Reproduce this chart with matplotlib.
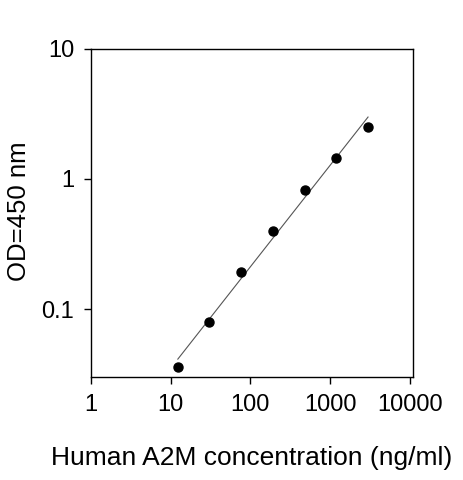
import numpy as np
import matplotlib
matplotlib.use('Agg')
from matplotlib import pyplot as plt

# standard curve, 2.5-fold dilution series
conc = [12.3, 30.7, 76.8, 192, 480, 1200, 3000]
od = [0.036, 0.079, 0.194, 0.396, 0.82, 1.46, 2.51]
xticks = [1, 10, 100, 1000, 10000]
xtick_labels = ['1', '10', '100', '1000', '10000']
yticks = [0.1, 1, 10]
ytick_labels = ['0.1', '1', '10']

plt.rcParams['font.family'] = ['Liberation Sans', 'DejaVu Sans']

fig = plt.figure(figsize=(4.63, 4.8), dpi=100)
ax = fig.add_axes([0.1965, 0.2146, 0.6955, 0.6834])

# linear fit in log-log space
k, b = np.polyfit(np.log10(conc), np.log10(od), 1)
xf = np.array([conc[0], conc[-1]])
ax.plot(xf, 10 ** (k * np.log10(xf) + b), color='#555555', lw=0.8)
ax.plot(conc, od, 'o', color='black', ms=6.5)

ax.set_xscale('log')
ax.set_yscale('log')
ax.set_xlim(1, 11000)
ax.set_ylim(0.03, 10)
ax.set_xticks(xticks)
ax.set_xticklabels(xtick_labels)
ax.set_yticks(yticks)
ax.set_yticklabels(ytick_labels)
ax.minorticks_off()
ax.tick_params(direction='out', length=5, width=1, labelsize=17, pad=7)
for s in ax.spines.values():
    s.set_linewidth(1)

ax.set_xlabel('Human A2M concentration (ng/ml)', fontsize=19, labelpad=22)
ax.set_ylabel('OD=450 nm', fontsize=18.5, va='center')
ax.yaxis.set_label_coords(-0.225, 0.505)

fig.savefig('out.png', dpi=100)
